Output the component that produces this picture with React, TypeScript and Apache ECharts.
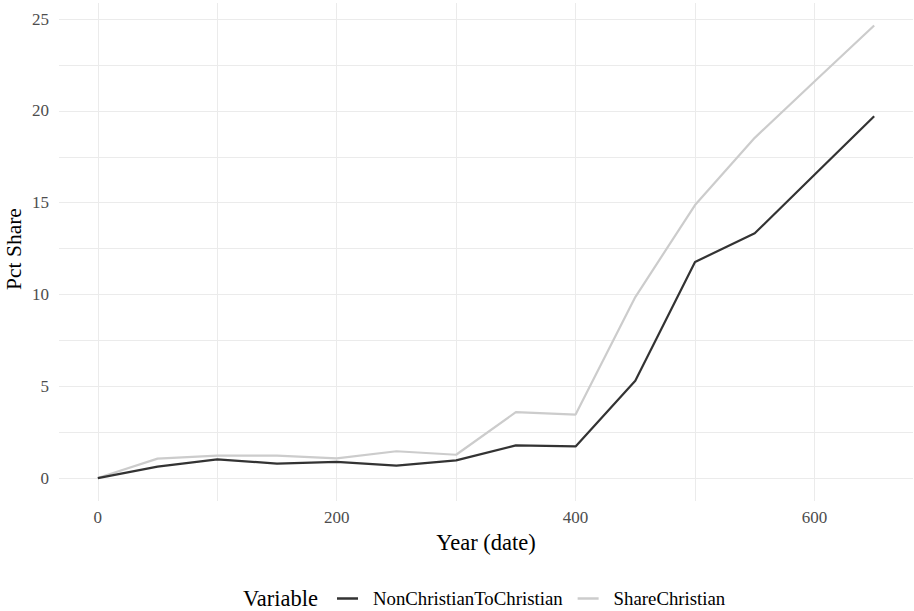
import React, { useEffect, useRef } from "react";
import * as echarts from "echarts";

const years = [0, 50, 100, 150, 200, 250, 300, 350, 400, 450, 500, 550, 600, 650];
const nonChristianToChristian = [0, 0.62, 1.02, 0.79, 0.88, 0.68, 0.96, 1.78, 1.72, 5.3, 11.77, 13.33, 16.52, 19.71];
const shareChristian = [0, 1.06, 1.22, 1.22, 1.07, 1.46, 1.27, 3.59, 3.46, 9.86, 14.87, 18.53, 21.6, 24.65];
const seriesNames = ["NonChristianToChristian", "ShareChristian"];
const xLabelStep = 200;
const xGridStep = 100;
const yLabelStep = 5;

const FONT = "'Liberation Serif', 'DejaVu Serif', serif";
const GRID = "#ebebeb";

export default function App() {
  const ref = useRef<HTMLDivElement>(null);
  useEffect(() => {
    if (!ref.current) return;
    const chart = echarts.init(ref.current, undefined, { renderer: "svg" });
    // ggplot-like 5% expansion
    const xMin = -32.5;
    const xMax = 682.5;
    const xTick = 2.5;
    const yMin = -1.25;
    const yMax = 25.875;
    const yTick = 1.25;
    const isMult = (v: number, s: number) => Math.abs(v / s - Math.round(v / s)) < 1e-6;
    // colour cycle so that only multiples of 100 get a line
    const period = Math.round(xGridStep / xTick);
    const offset = Math.round((0 - xMin) / xTick) % period;
    const xColors = Array.from({ length: period }, (_, i) => (i === offset ? GRID : "rgba(0,0,0,0)"));
    chart.setOption({
      animation: false,
      grid: { left: 59, right: 1, top: 3, bottom: 110, containLabel: false, outerBoundsMode: "none" },
      xAxis: {
        type: "value",
        min: xMin,
        max: xMax,
        interval: xTick,
        axisLine: { show: false },
        axisTick: { show: false },
        axisLabel: {
          interval: 0,
          margin: 8,
          color: "#4d4d4d",
          fontSize: 17,
          fontFamily: FONT,
          formatter: (v: number) => (v >= 0 && isMult(v, xLabelStep) ? String(Math.round(v)) : ""),
        },
        splitLine: { show: true, lineStyle: { color: xColors, width: 1 } },
        name: "Year (date)",
        nameLocation: "middle",
        nameGap: 29,
        nameTextStyle: { color: "#000", fontSize: 22.5, fontFamily: FONT },
      },
      yAxis: {
        type: "value",
        min: yMin,
        max: yMax,
        interval: yTick,
        axisLine: { show: false },
        axisTick: { show: false },
        axisLabel: {
          interval: 0,
          margin: 10,
          color: "#4d4d4d",
          fontSize: 17,
          fontFamily: FONT,
          formatter: (v: number) => (v >= 0 && isMult(v, yLabelStep) ? String(Math.round(v)) : ""),
        },
        splitLine: { show: true, lineStyle: { color: ["rgba(0,0,0,0)", GRID], width: 1 } },
      },
      legend: {
        left: 337,
        top: 589,
        padding: 0,
        itemWidth: 21,
        itemHeight: 2.5,
        itemGap: 15,
        icon: "rect",
        textStyle: { fontSize: 18.8, fontFamily: FONT, color: "#000", padding: [0, 0, 0, 10] },
        data: seriesNames,
      },
      graphic: [
        {
          type: "text",
          x: 243,
          y: 598,
          style: { text: "Variable", fontSize: 22.5, fontFamily: FONT, fill: "#000", verticalAlign: "middle" },
        },
        {
          type: "text",
          x: 14,
          y: 249,
          rotation: Math.PI / 2,
          style: {
            text: "Pct Share",
            fontSize: 21.5,
            fontFamily: FONT,
            fill: "#000",
            align: "center",
            verticalAlign: "middle",
          },
        },
      ],
      series: [
        {
          name: seriesNames[0],
          type: "line",
          data: years.map((y, i) => [y, nonChristianToChristian[i]]),
          showSymbol: false,
          lineStyle: { color: "#333333", width: 2.2 },
          itemStyle: { color: "#333333" },
          z: 3,
        },
        {
          name: seriesNames[1],
          type: "line",
          data: years.map((y, i) => [y, shareChristian[i]]),
          showSymbol: false,
          lineStyle: { color: "#cccccc", width: 2.2 },
          itemStyle: { color: "#cccccc" },
          z: 2,
        },
      ],
    });
    return () => chart.dispose();
  }, []);
  return <div ref={ref} style={{ width: 914, height: 611, position: "absolute", left: 0, top: 0 }} />;
}
